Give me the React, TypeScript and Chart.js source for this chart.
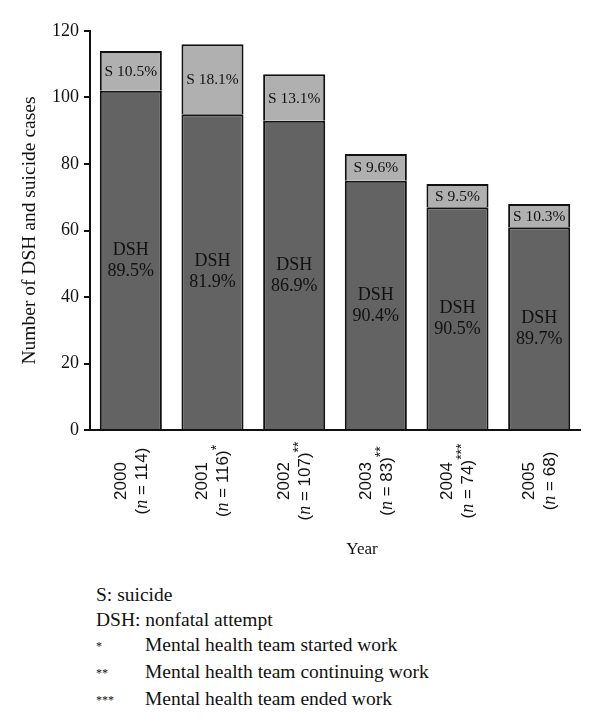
import React, { useEffect, useRef } from 'react';
import { Chart, registerables } from 'chart.js';
Chart.register(...registerables);

const years = ['2000', '2001', '2002', '2003', '2004', '2005'];
const totals = [114, 116, 107, 83, 74, 68];
const stars = ['', '*', '**', '**', '***', ''];
const dshCases = [102, 95, 93, 75, 67, 61];
const suicideCases = [12, 21, 14, 8, 7, 7];
const yMin = 0;
const yMax = 120;
const yStep = 20;
const notes = [
  ['', 'S: suicide'],
  ['', 'DSH: nonfatal attempt'],
  ['*', 'Mental health team started work'],
  ['**', 'Mental health team continuing work'],
  ['***', 'Mental health team ended work'],
];

const SERIF = '"Liberation Serif", "Times New Roman", serif';
const SANS = '"Liberation Sans", Arial, sans-serif';

const labelPlugin = {
  id: 'barLabels',
  afterDatasetsDraw(chart: any) {
    const ctx = chart.ctx;
    const dshMeta = chart.getDatasetMeta(0);
    const sMeta = chart.getDatasetMeta(1);
    ctx.save();
    ctx.fillStyle = '#111';
    ctx.textAlign = 'center';
    ctx.textBaseline = 'middle';
    dshMeta.data.forEach((bar: any, i: number) => {
      const { x, y, base } = bar.getProps(['x', 'y', 'base'], true);
      const cy = (y + base) / 2;
      const pct = ((dshCases[i] / totals[i]) * 100).toFixed(1);
      ctx.font = `18px ${SERIF}`;
      ctx.fillText('DSH', x, cy - 10);
      ctx.fillText(pct + '%', x, cy + 11);
    });
    sMeta.data.forEach((bar: any, i: number) => {
      const { x, y, base } = bar.getProps(['x', 'y', 'base'], true);
      const cy = (y + base) / 2 + 1;
      const pct = ((suicideCases[i] / totals[i]) * 100).toFixed(1);
      ctx.font = `15.5px ${SERIF}`;
      ctx.fillText('S ' + pct + '%', x, cy);
    });

    const xs = chart.scales.x;
    years.forEach((yr, i) => {
      const cx = xs.getPixelForValue(i);
      ctx.save();
      ctx.translate(cx, 481);
      ctx.rotate(-Math.PI / 2);
      ctx.textBaseline = 'middle';
      ctx.textAlign = 'center';
      ctx.font = `17px ${SANS}`;
      ctx.fillText(yr, 0, -10);
      ctx.textAlign = 'left';
      const parts = [
        { t: '(', f: `17px ${SANS}`, dy: 0 },
        { t: 'n', f: `italic 18px ${SERIF}`, dy: 0 },
        { t: ' = ' + totals[i] + ')', f: `17px ${SANS}`, dy: 0 },
        { t: stars[i], f: `14px ${SANS}`, dy: -6 },
      ];
      let w = 0;
      parts.forEach((p) => {
        ctx.font = p.f;
        w += ctx.measureText(p.t).width;
      });
      let px = -w / 2;
      parts.forEach((p) => {
        ctx.font = p.f;
        ctx.fillText(p.t, px, 11 + p.dy);
        px += ctx.measureText(p.t).width;
      });
      ctx.restore();
    });

    ctx.font = `17px ${SERIF}`;
    ctx.textAlign = 'center';
    ctx.fillText('Year', 362, 550);
    ctx.restore();
  },
};

export default function App() {
  const ref = useRef<HTMLCanvasElement>(null);
  useEffect(() => {
    if (!ref.current) return;
    const chart = new Chart(ref.current, {
      type: 'bar',
      data: {
        labels: years,
        datasets: [
          {
            label: 'DSH',
            data: dshCases,
            backgroundColor: '#636363',
            borderColor: '#111',
            borderWidth: 2,
            barPercentage: 0.76,
            categoryPercentage: 1,
          },
          {
            label: 'S',
            data: suicideCases,
            backgroundColor: '#b0b0b0',
            borderColor: '#111',
            borderWidth: 2,
            barPercentage: 0.76,
            categoryPercentage: 1,
          },
        ],
      },
      options: {
        responsive: false,
        animation: false,
        layout: { padding: { left: 0, right: 20, top: 31, bottom: 0 } },
        plugins: { legend: { display: false }, tooltip: { enabled: false } },
        scales: {
          x: {
            stacked: true,
            grid: { display: false },
            border: { display: true, color: '#111', width: 2 },
            ticks: { display: false },
            afterFit: (s: any) => {
              s.height = 140;
            },
          },
          y: {
            stacked: true,
            min: yMin,
            max: yMax,
            ticks: {
              stepSize: yStep,
              color: '#111',
              padding: 5,
              font: { family: SERIF, size: 18 },
            },
            grid: {
              display: true,
              drawOnChartArea: false,
              drawTicks: true,
              tickLength: 6,
              color: '#111',
              lineWidth: 2,
            },
            border: { display: true, color: '#111', width: 2 },
            title: {
              display: true,
              text: 'Number of DSH and suicide cases',
              color: '#111',
              font: { family: SERIF, size: 19.5 },
              padding: { top: 18, bottom: 0 },
            },
            afterFit: (s: any) => {
              s.width = 90;
            },
          },
        },
      },
      plugins: [labelPlugin],
    });
    return () => chart.destroy();
  }, []);

  return (
    <div style={{ position: 'absolute', left: 0, top: 0, width: 600, height: 724, background: '#fff' }}>
      <canvas ref={ref} width={600} height={570} style={{ position: 'absolute', left: 0, top: 0 }} />
      <div
        style={{
          position: 'absolute',
          left: 96,
          top: 582,
          fontFamily: SERIF,
          fontSize: 19.5,
          lineHeight: '25px',
          color: '#111',
          whiteSpace: 'nowrap',
        }}
      >
        {notes.map(([st, txt], i) => (
          <div key={i}>
            {st ? (
              <span style={{ display: 'inline-block', width: 49, fontSize: 12, verticalAlign: 'middle' }}>{st}</span>
            ) : null}
            {txt}
          </div>
        ))}
      </div>
    </div>
  );
}
